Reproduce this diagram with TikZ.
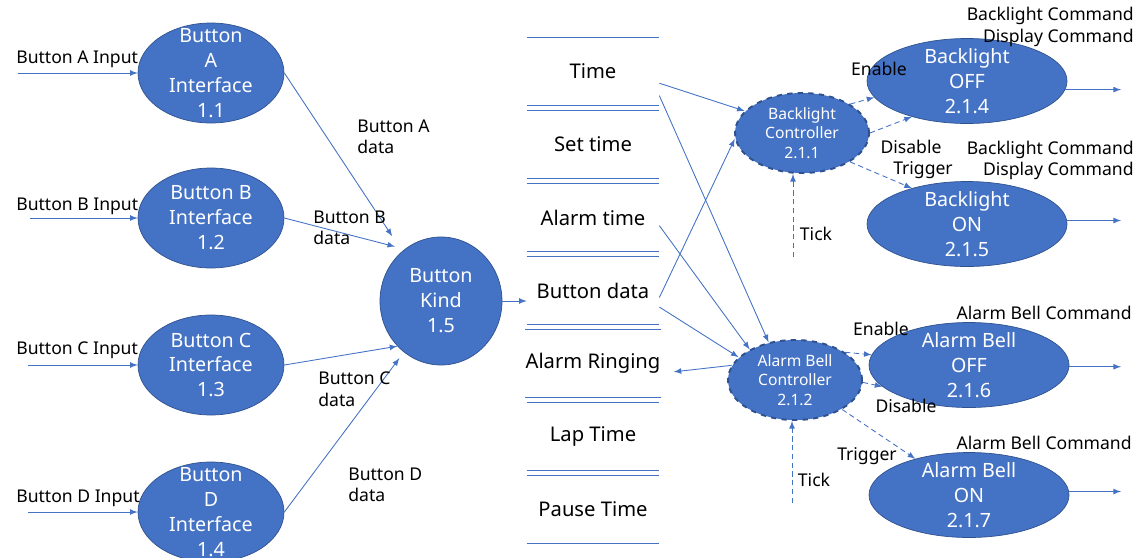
\documentclass[tikz,border=0pt]{standalone}
\usepackage{fontspec}
\setmainfont{Noto Sans}
\usetikzlibrary{shapes.geometric}

\definecolor{procblue}{HTML}{4472C4}
\definecolor{procedge}{HTML}{2F528F}

\tikzset{
  proc/.style={ellipse, draw=procedge, fill=procblue, text=white, align=center, inner sep=-12pt,
    minimum width=2.92cm, minimum height=2cm, font=\fontsize{11.2}{14.2}\selectfont},
  ctrl/.style={proc, minimum width=2.68cm, minimum height=1.6cm, dashed, line width=1.1pt,
    font=\fontsize{8.9}{11}\selectfont},
  onoff/.style={proc, minimum width=4cm, minimum height=1.7cm},
  storeline/.style={draw=procblue, line width=0.6pt, -},
  store/.style={minimum width=2.64cm, minimum height=1.34cm, inner sep=0pt, font=\fontsize{11.5}{14}\selectfont,
    append after command={(\tikzlastnode.north west) edge[storeline] (\tikzlastnode.north east)
      (\tikzlastnode.south west) edge[storeline] (\tikzlastnode.south east)}},
  flow/.style={draw=procblue, line width=0.5pt, -latex},
  ctrlflow/.style={flow, densely dashed},
  lbl/.style={inner sep=0pt, font=\fontsize{10}{12.2}\selectfont}
}

\begin{document}
\begin{tikzpicture}
\useasboundingbox (0,0) rectangle (22.7,-11.14);

% Left part - button interfaces
\node[proc] (bA) at (4.22,-1.46) {Button\\A\\Interface\\1.1};
\node[proc] (bB) at (4.22,-4.36) {Button B\\Interface\\1.2};
\node[proc] (bC) at (4.22,-7.30) {Button C\\Interface\\1.3};
\node[proc] (bD) at (4.22,-10.24) {Button\\D\\Interface\\1.4};
\node[proc, minimum width=2.44cm, minimum height=2.56cm] (kind) at (8.82,-6.02) {Button\\Kind\\1.5};

\coordinate (inA) at (0.36,-1.46);
\coordinate (inB) at (0.60,-4.36);
\coordinate (inC) at (0.56,-7.30);
\coordinate (inD) at (0.56,-10.24);
\node[lbl, anchor=base west] (lA) at (0.32,-1.26) {Button A Input};
\node[lbl, anchor=base west] (lB) at (0.32,-4.20) {Button B Input};
\node[lbl, anchor=base west] (lC) at (0.32,-7.08) {Button C Input};
\node[lbl, anchor=base west] (lD) at (0.32,-10.04) {Button D Input};
\draw[flow] (inA) -- (bA.west);
\draw[flow] (inB) -- (bB.west);
\draw[flow] (inC) -- (bC.west);
\draw[flow] (inD) -- (bD.west);

\draw[flow, shorten >=0.36cm] (bA.east) -- (kind.128);
\draw[flow, shorten >=0.2cm] (bB.east) -- (kind.125);
\draw[flow] (bC.east) -- (kind.226);
\draw[flow, shorten >=0.15cm] (bD.east) -- (kind.234);
\node[lbl, anchor=west, align=left] (dA) at (7.14,-2.74) {Button A\\data};
\node[lbl, anchor=west, align=left] (dB) at (6.26,-4.56) {Button B\\data};
\node[lbl, anchor=west, align=left] (dC) at (6.36,-7.78) {Button C\\data};
\node[lbl, anchor=west, align=left] (dD) at (6.96,-9.70) {Button D\\data};

% Middle part - data stores
\node[store] (sTime) at (11.86,-1.43) {Time};
\node[store] (sSet) at (11.86,-2.89) {Set time};
\node[store] (sAlarm) at (11.86,-4.35) {Alarm time};
\node[store] (sButton) at (11.86,-5.81) {Button data};
\node[store] (sRing) at (11.86,-7.27) {Alarm Ringing};
\node[store] (sLap) at (11.86,-8.73) {Lap Time};
\node[store] (sPause) at (11.86,-10.19) {Pause Time};
\draw[flow] (kind.east) -- (kind.east -| sButton.west);

% Right part - controllers and states
\node[ctrl] (bc) at (16.04,-2.66) {Backlight\\Controller\\2.1.1};
\node[ctrl] (abc) at (15.90,-7.60) {Alarm Bell\\Controller\\2.1.2};
\node[onoff] (boff) at (19.34,-1.62) {Backlight\\OFF\\2.1.4};
\node[onoff] (bon) at (19.34,-4.48) {Backlight\\ON\\2.1.5};
\node[onoff] (aoff) at (19.38,-7.30) {Alarm Bell\\OFF\\2.1.6};
\node[onoff] (aon) at (19.38,-9.90) {Alarm Bell\\ON\\2.1.7};

\draw[flow] (sTime.-10) -- (bc.159);
\draw[flow] (sTime.-20) -- (abc.125);
\draw[flow] (sAlarm.-7) -- (abc.146);
\draw[flow] (sButton.-6) -- (bc.185);
\draw[flow] (sButton.-14) -- (abc.158);
\draw[flow] (abc.167) -- ([xshift=0.26cm]sRing.-7);

\draw[ctrlflow] (bc.31) -- (boff.190);
\draw[ctrlflow] (bc.east) -- (boff.213);
\draw[ctrlflow] (bc.-31) -- (bon.147);
\draw[ctrlflow] (abc.29) -- (aoff.174);
\draw[ctrlflow] (abc.-2) -- (aoff.194);
\draw[ctrlflow] (abc.-32) -- (aon.146);

\coordinate (tickB) at (15.86,-5.14);
\coordinate (tickA) at (15.84,-10.06);
\draw[ctrlflow] (tickB) -- (tickB |- bc.south);
\draw[ctrlflow] (tickA) -- (tickA |- abc.south);

\coordinate (outx) at (22.42,0);
\draw[flow] (boff.-5) -- (boff.-5 -| outx);
\draw[flow] (bon.2) -- (bon.2 -| outx);
\draw[flow] (aoff.-1) -- (aoff.-1 -| outx);
\draw[flow] (aon.2) -- (aon.2 -| outx);

\node[lbl] (enB) at (17.58,-1.38) {Enable};
\node[lbl] (disB) at (18.22,-2.94) {Disable};
\node[lbl] (trB) at (18.46,-3.40) {Trigger};
\node[lbl] (tkB) at (16.32,-4.68) {Tick};
\node[lbl] (enA) at (17.62,-6.58) {Enable};
\node[lbl] (disA) at (18.12,-8.12) {Disable};
\node[lbl] (trA) at (17.34,-9.12) {Trigger};
\node[lbl] (tkA) at (16.28,-9.60) {Tick};
\node[lbl, anchor=east, align=right] (cmdOff) at (22.68,-0.54) {Backlight Command\\Display Command};
\node[lbl, anchor=east, align=right] (cmdOn) at (22.68,-3.21) {Backlight Command\\Display Command};
\node[lbl, anchor=east] (belOff) at (22.64,-6.26) {Alarm Bell Command};
\node[lbl, anchor=east] (belOn) at (22.64,-8.86) {Alarm Bell Command};
\end{tikzpicture}
\end{document}
